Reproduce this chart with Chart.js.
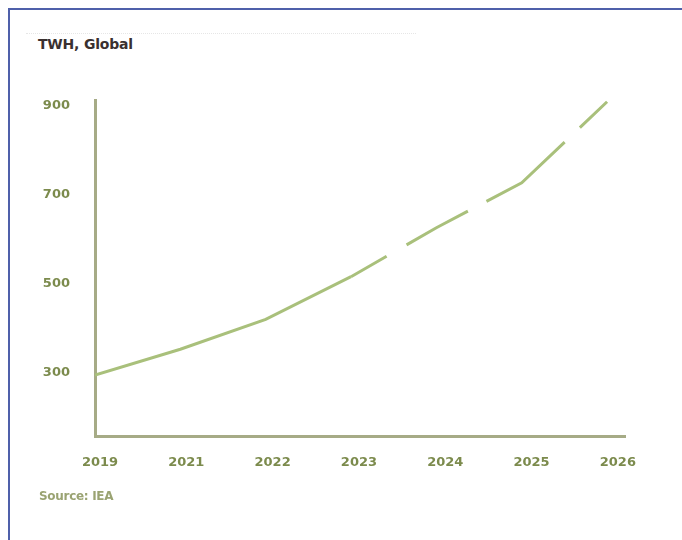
<!DOCTYPE html>
<html>
<head>
<meta charset="utf-8">
<script src="https://cdn.jsdelivr.net/npm/chart.js@4/dist/chart.umd.min.js"></script>
<style>
  html, body { margin: 0; padding: 0; background: #ffffff; }
  #wrap { position: relative; width: 682px; height: 540px; overflow: hidden; background: #fff; }
  #frame { position: absolute; left: 8px; top: 8px; right: 0; bottom: 0;
           border-top: 2px solid #4f60aa; border-left: 2px solid #4f60aa; }
  #rule { position: absolute; left: 26px; top: 33px; width: 390px; height: 0;
          border-top: 1px dotted #e6e6e6; }
  #title { position: absolute; left: 38px; top: 36px; font: bold 14px "DejaVu Sans", sans-serif;
           color: #3a3030; letter-spacing: -0.2px; }
  #source { position: absolute; left: 39px; top: 489px; font: bold 12px "DejaVu Sans", sans-serif;
            color: #9aa372; letter-spacing: -0.3px; }
  canvas { position: absolute; left: 0; top: 0; }
</style>
</head>
<body>
<div id="wrap">
  <div id="frame"></div>
  <div id="rule"></div>
  <div id="title">TWH, Global</div>
  <canvas id="c" width="682" height="540"></canvas>
  <div id="source">Source: IEA</div>
</div>
<script>
// Global electricity consumption, TWh
const years = ['2019', '2021', '2022', '2023', '2024', '2025', '2026'];
const twh = [295, 353, 420, 516, 626, 727, 909];
const yTicks = [300, 500, 700, 900];
const firstProjected = 3; // index of the first year drawn dashed onward

const lineColor = '#a9c07b';
const axisColor = '#a6ab86';
const tickColor = '#7c8b4d';
const tickFont = { family: 'DejaVu Sans', size: 13, weight: 'bold' };

new Chart(document.getElementById('c'), {
  type: 'line',
  data: {
    datasets: [{
      data: twh.map((v, i) => ({ x: i, y: v })),
      xAxisID: 'xl',
      borderColor: lineColor,
      borderWidth: 3,
      pointRadius: 0,
      tension: 0,
      fill: false,
      segment: {
        borderDash: ctx => ctx.p0DataIndex >= firstProjected ? [41, 23, 70, 21, 99, 21, 60] : undefined
      }
    }]
  },
  options: {
    responsive: false,
    animation: false,
    events: [],
    layout: { padding: { top: 100, right: 57, bottom: 0, left: 0 } },
    plugins: { legend: { display: false }, tooltip: { enabled: false }, title: { display: false } },
    scales: {
      x: {
        type: 'linear',
        position: 'bottom',
        min: -0.058,
        max: 6.083,
        afterBuildTicks: s => { s.ticks = years.map((_, i) => ({ value: i })); },
        afterFit: s => { s.height = 104; },
        grid: { display: false },
        border: { display: true, color: axisColor, width: 3 },
        ticks: {
          padding: 11,
          maxRotation: 0,
          autoSkip: false,
          color: tickColor,
          font: tickFont,
          callback: v => years[v] ?? ''
        }
      },
      xl: {
        type: 'linear',
        display: false,
        min: 0,
        max: 6.21
      },
      y: {
        min: 158,
        max: 913,
        afterBuildTicks: s => { s.ticks = yTicks.map(v => ({ value: v })); },
        afterFit: s => { s.width = 95; },
        grid: { display: false },
        border: { display: true, color: axisColor, width: 3 },
        ticks: {
          padding: 17,
          color: tickColor,
          font: tickFont
        }
      }
    }
  }
});
</script>
</body>
</html>
